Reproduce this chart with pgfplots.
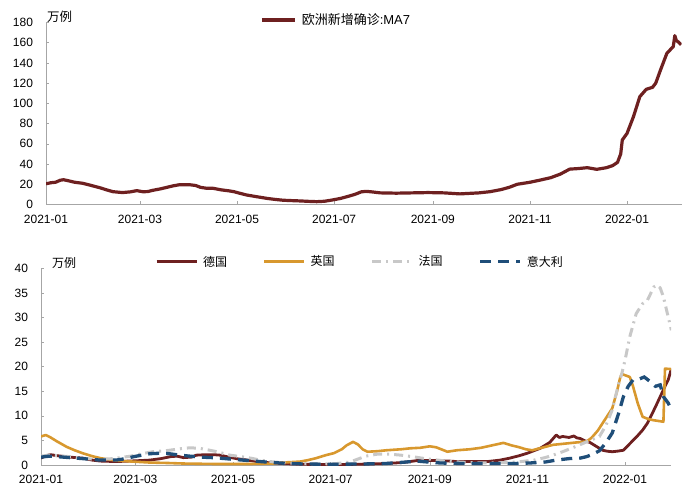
\documentclass[border=0pt]{standalone}
\usepackage{pgfplots}
\pgfplotsset{compat=1.18}
\usepackage{fontspec}
\setmainfont{Liberation Sans}
\newfontfamily\cjk{Noto Sans CJK SC}
\definecolor{de}{HTML}{6E2020}
\definecolor{uk}{HTML}{D8982E}
\definecolor{fr}{HTML}{C8C8C8}
\definecolor{it}{HTML}{1F4E79}
\definecolor{axisgray}{HTML}{A6A6A6}
\begin{document}
\begin{tikzpicture}
\useasboundingbox (0,0) rectangle (700pt,501pt);
\pgfplotsset{
  base/.style={
    scale only axis,
    axis x line*=bottom, axis y line*=left,
    axis line style={draw=axisgray, line width=0.8pt, -},
    tick style={draw=axisgray, line width=0.6pt},
    major tick length=3pt, tick align=inside,
    xtick={0,59,120,181,243,304,365},
    xticklabels={2021-01,2021-03,2021-05,2021-07,2021-09,2021-11,2022-01},
    ticklabel style={font=\fontsize{12}{14}\selectfont, text=black},
    /pgf/number format/assume math mode=true,
    yticklabel style={xshift=-9.5pt},
    xticklabel style={yshift=-7pt},
    xmin=0, ymin=0,
    legend style={draw=none, fill=none, inner sep=0pt, nodes={inner sep=0pt},
      /tikz/every odd column/.append style={column sep=5pt},
      /tikz/every even column/.append style={column sep=36pt}},
  },
  longimg/.style={legend image code/.code={\draw[##1] (0pt,0pt) -- (40pt,0pt);}},
  shortimg/.style={legend image code/.code={\draw[##1, line width=3.6pt] (0pt,0pt) -- (33pt,0pt);}},
}
% ---------------- top panel ----------------
\begin{axis}[base, shortimg, at={(46pt,296.5pt)}, anchor=south west,
  width=635.5pt, height=182pt, xmax=399.2, ymax=180,
  ytick={0,20,...,180},
  legend style={at={(axis description cs:0.3367,1.0137)}, anchor=west,
    font=\fontsize{13}{15}\selectfont}]
\addplot[de, line width=3.2pt, line join=round] coordinates {
(0,20.5)(3,21.5)(6,22)(9,24)(11,24.5)(14,23.5)(18,22)(23,21)(28,19)(34,16.5)
(38,14.5)(42,12.7)(48,11.8)(53,12.5)(57,13.7)(61,12.6)(64,12.8)(67,14)(72,15.5)
(76,17)(80,18.5)(84,19.6)(90,19.6)(94,18.8)(97,17)(101,16)(105,16)(110,14.5)
(115,13.5)(118,12.7)(122,11)(126,9.4)(132,7.8)(139,6)(144,5)(149,4.2)(155,3.8)
(160,3.5)(165,3.1)(170,2.8)(175,3.2)(180,4.5)(185,6)(189,7.7)(194,10)(198,12.5)
(201,13)(204,12.6)(210,11.5)(220,11.2)(230,11.5)(240,11.8)(250,11.5)(255,11)
(260,10.5)(266,11)(272,11.5)(279,12.7)(286,14.8)(291,17)(296,20)(300,21)(304,22)
(310,24)(317,26.5)(323,30)(329,35)(334,35.5)(340,36.4)(346,34.8)(352,36.4)
(356,38.5)(359,41.7)(361,50)(362,63.8)(365,70.4)(369,86.8)(373,106.6)(377,113.9)
(381,115.9)(383,120)(386,133)(390,149.5)(393,154.5)(394,156)(395,167)(396,162)
(397,161)(399,158)};
\addlegendentry{{\cjk 欧洲新增确诊}:MA7}
\end{axis}
\node[anchor=west, font=\cjk\fontsize{12.5}{14}\selectfont, inner sep=0pt] at (47pt,484.3pt) {万例};
% ---------------- bottom panel ----------------
\begin{axis}[base, longimg, at={(41pt,36pt)}, anchor=south west,
  width=630pt, height=196.7pt, xmax=393.75, ymax=40,
  ytick={0,5,...,40},
  legend columns=4,
  legend style={at={(axis description cs:0.181,1.0336)}, anchor=west,
    font=\fontsize{12}{14}\selectfont}]
\addplot[de, line width=2.8pt, line join=round] coordinates {
(0,1.4)(3,1.9)(6,2.1)(10,1.9)(18,1.6)(26,1.4)(32,1.0)(37,0.8)(47,0.7)(55,0.8)
(62,0.9)(68,1.0)(75,1.3)(81,1.7)(85,1.8)(89,1.5)(94,1.6)(97,2.0)(103,2.1)(108,2.1)
(112,2.0)(116,1.7)(122,1.3)(129,1.0)(135,0.7)(141,0.5)(150,0.3)(162,0.15)(175,0.1)
(190,0.1)(205,0.2)(215,0.3)(226,0.5)(235,0.9)(247,0.9)(255,0.8)(260,0.7)(270,0.7)
(279,0.7)(287,1.0)(293,1.4)(299,1.9)(304,2.4)(308,2.9)(312,3.4)(318,4.6)(322,6.1)
(324,5.6)(326,5.8)(330,5.6)(333,5.9)(335,5.5)(337,5.4)(340,4.9)(343,4.6)(347,3.8)
(351,3.0)(354,2.8)(357,2.7)(360,2.8)(364,3.0)(367,4.0)(370,5.0)(373,6.0)(376,7.1)
(379,8.5)(381,9.8)(384,11.8)(387,13.9)(390,16)(392,17.3)(394,19.6)};
\addlegendentry{\cjk 德国}
\addplot[uk, line width=2.6pt, line join=round] coordinates {
(0,5.8)(3,6.1)(6,5.6)(10,4.8)(16,3.7)(21,3.0)(26,2.4)(32,1.8)(37,1.4)(47,0.9)
(57,0.7)(68,0.5)(80,0.4)(89,0.3)(110,0.2)(130,0.2)(145,0.3)(151,0.5)(157,0.6)
(162,0.7)(167,1.0)(172,1.4)(178,2.0)(183,2.4)(188,3.2)(191,4.0)(195,4.7)(198,4.2)
(201,3.2)(204,2.7)(210,2.8)(216,3.0)(225,3.2)(231,3.4)(237,3.5)(243,3.8)(247,3.6)
(254,2.7)(260,3.0)(268,3.2)(275,3.5)(282,4.0)(289,4.5)(294,4.0)(299,3.6)(303,3.2)
(307,3.0)(313,3.5)(320,4.1)(329,4.4)(341,4.8)(344,5.5)(348,7.0)(354,10.0)(357,11.5)
(360,15.0)(362,17.8)(363,18.5)(368,17.9)(370,16)(373,12.5)(376,9.8)(380,9.3)
(383,9.1)(389,8.8)(390,19.6)(394,19.5)};
\addlegendentry{\cjk 英国}
\addplot[fr, line width=3pt, dash pattern=on 9pt off 5pt on 2pt off 5pt] coordinates {
(0,1.8)(5,2.0)(10,1.9)(18,1.7)(26,1.4)(35,1.1)(45,1.3)(56,1.8)(63,2.3)(70,2.7)
(78,2.9)(87,3.3)(93,3.5)(99,3.4)(104,3.1)(110,2.7)(118,2.0)(125,1.7)(131,1.4)
(137,1.0)(143,0.7)(150,0.5)(160,0.3)(175,0.2)(185,0.3)(193,0.6)(198,1.2)(203,1.8)
(210,2.2)(218,2.2)(225,2.0)(232,1.7)(240,1.3)(248,1.0)(256,0.7)(268,0.5)(280,0.4)
(292,0.5)(300,0.7)(308,1.0)(315,1.5)(320,2.0)(326,2.7)(333,3.6)(341,4.7)(349,5.8)
(353,8.0)(357,11.2)(361,16.5)(363,18.6)(365,21.3)(368,26.1)(372,30.8)(376,32.8)
(379,33.5)(383,36.2)(385,36.6)(387,36)(389,34.2)(392,30.1)(394,27.4)};
\addlegendentry{\cjk 法国}
\addplot[it, line width=3.3pt, dash pattern=on 11pt off 7pt] coordinates {
(0,1.6)(5,1.8)(10,1.7)(18,1.5)(26,1.3)(37,1.0)(47,1.0)(53,1.3)(58,1.7)(63,2.0)
(68,2.3)(75,2.4)(80,2.3)(87,2.0)(93,1.8)(100,1.6)(107,1.5)(115,1.3)(122,1.1)
(130,0.9)(137,0.7)(145,0.5)(155,0.3)(165,0.2)(180,0.15)(200,0.2)(215,0.3)(228,0.6)
(235,0.8)(242,0.6)(250,0.4)(265,0.3)(280,0.3)(295,0.3)(305,0.4)(315,0.6)(322,1.0)
(330,1.3)(337,1.4)(341,1.7)(345,2.2)(349,2.9)(353,4.5)(357,6.5)(361,10.5)(364,13.9)
(367,16.0)(370,17.3)(374,17.5)(377,17.9)(381,16.9)(384,16.0)(387,16.3)(389,13.9)
(392,12.6)(394,11.2)};
\addlegendentry{\cjk 意大利}
\end{axis}
\node[anchor=west, font=\cjk\fontsize{12}{14}\selectfont, inner sep=0pt] at (52pt,238.3pt) {万例};
\end{tikzpicture}
\end{document}
